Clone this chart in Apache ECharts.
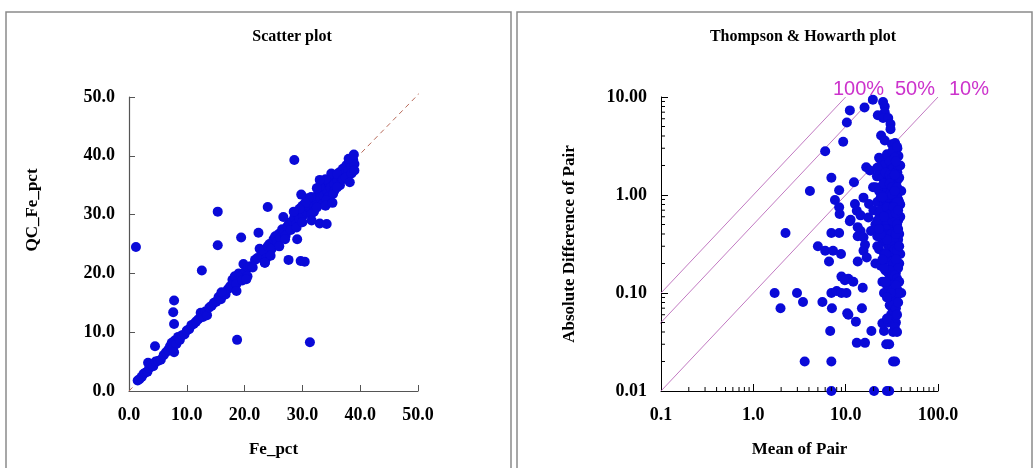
<!DOCTYPE html>
<html>
<head>
<meta charset="utf-8">
<script src="https://cdn.jsdelivr.net/npm/echarts@6/dist/echarts.min.js"></script>
<style>
html,body{margin:0;padding:0;background:#fff;}
#chart{width:1035px;height:468px;}
</style>
</head>
<body>
<div id="chart"></div>
<script>
// ---------- DATA ----------
const scatterTitle = "Scatter plot";
const thTitle = "Thompson & Howarth plot";
const scatterXName = "Fe_pct";
const scatterYName = "QC_Fe_pct";
const thXName = "Mean of Pair";
const thYName = "Absolute Difference of Pair";
const percentLabels = ["100%", "50%", "10%"];

// [Fe_pct, QC_Fe_pct]
const scatterPairs = [
  [1.5,1.8],[1.8,2.0],[2.2,2.4],[2.5,2.9],[2.8,3.1],[3.2,3.3],[3.5,3.9],[3.3,4.8],[3.9,4.6],[4.2,4.2],
  [4.6,5.0],[5.0,5.1],[5.5,5.3],[6.0,6.1],[6.4,6.6],[6.8,7.0],[7.1,7.6],[7.4,8.2],[7.6,7.2],[7.9,8.6],
  [8.2,8.0],[8.5,9.2],[8.8,8.7],[9.2,9.5],[9.6,9.6],[10.0,10.3],[10.4,10.5],[10.8,11.2],[11.2,11.4],[11.6,11.8],
  [12.0,12.2],[12.4,13.3],[12.8,12.6],[13.2,13.5],[13.5,12.9],[13.9,14.2],[14.3,14.5],[14.7,15.0],[15.1,15.2],[15.5,16.0],
  [15.9,15.6],[16.3,16.5],[16.7,16.4],[17.1,17.3],[17.5,17.8],[17.9,18.9],[18.3,19.5],[18.6,18.2],[19.0,20.0],[19.4,19.6],
  [19.8,21.6],[20.2,20.5],[20.6,21.0],[21.0,21.2],[21.4,21.0],[21.8,22.3],[22.2,22.6],[22.6,24.2],[22.9,23.0],[23.3,23.8],
  [23.7,22.5],[24.0,24.6],[24.3,25.0],[24.7,24.2],[25.0,25.8],[25.3,26.3],[25.6,25.4],[25.9,26.7],[26.2,26.0],[26.5,27.5],
  [26.8,27.0],[27.1,26.4],[27.4,28.0],[27.7,28.6],[28.0,27.4],[28.3,28.9],[28.6,29.5],[28.9,28.3],[29.2,30.0],[29.5,29.3],
  [29.8,30.6],[30.1,29.8],[30.4,31.2],[30.7,30.5],[31.0,31.9],[31.3,31.0],[31.6,32.3],[31.9,31.6],[32.2,33.0],[32.5,32.2],
  [32.8,33.6],[33.1,32.8],[33.4,34.2],[33.7,33.2],[34.0,35.0],[34.3,34.0],[34.6,35.4],[34.9,34.5],[35.2,36.0],[35.5,35.2],
  [35.8,36.5],[36.1,35.8],[36.4,37.2],[36.7,36.3],[37.0,37.8],[37.3,37.0],[37.6,38.4],[37.9,37.5],[38.2,38.9],[38.5,38.2],
  [38.8,39.3],[39.0,38.6],[30.0,31.5],[31.5,33.0],[32.0,30.5],[33.0,34.8],[33.5,31.8],[34.5,33.0],[35.0,37.0],[35.5,34.0],
  [36.0,36.9],[36.5,35.0],[37.0,36.0],[34.0,36.0],[33.0,35.9],[32.5,34.5],[31.0,32.8],[30.5,32.0],[29.5,31.0],[28.5,30.5],
  [29.0,27.8],[30.0,28.7],[31.5,30.0],[32.5,31.2],[34.2,32.5],[35.3,33.5],[36.0,34.6],[37.5,36.3],[38.5,37.0],[39.0,37.5],
  [38.0,39.5],[34.0,31.5],[35.2,32.0],[27.0,25.8],[26.0,24.6],[24.5,23.0],[23.5,21.8],[20.5,19.5],[19.6,18.8],[16.0,16.8],
  [1.2,24.5],[15.35,30.5],[15.35,24.8],[24.0,31.3],[28.6,39.3],[19.4,26.1],[22.4,26.9],[12.6,20.5],[7.8,15.4],[7.65,13.4],
  [7.8,11.4],[18.7,8.7],[31.3,8.3],[4.5,7.6],[27.6,22.3],[29.7,22.1],[30.4,22.0],[33.0,28.5],[34.2,28.4],[31.6,29.0],
  [29.1,25.8],[26.7,29.6],[29.8,33.4],[38.2,35.5],[38.9,40.2],[18.6,17.0],[20.3,19.0],[7.8,6.6],[23.5,21.8]
];
// dashed reference line end points [x, y]
const refLine = [[0,0],[50.6,51]];

// [Mean of Pair, Absolute Difference of Pair]
const thPoints = [
  [19.7,9.4],[16.0,7.8],[11.1,7.3],[10.3,5.5],[9.4,3.5],[6.0,2.8],[4.1,1.1],[2.23,0.41],[7.0,1.5],[8.5,1.12],
  [7.65,0.89],[8.5,0.75],[8.6,0.64],[7.0,0.41],[8.5,0.41],[5.0,0.30],[6.0,0.27],[6.6,0.21],[7.3,0.27],[8.9,0.25],
  [1.7,0.10],[1.97,0.07],[2.97,0.10],[3.45,0.081],[5.6,0.081],[7.0,0.10],[8.0,0.105],[9.0,0.10],[10.2,0.10],[7.1,0.07],
  [9.0,0.147],[10.7,0.14],[9.8,0.135],[12.1,0.13],[10.4,0.062],[10.7,0.06],[12.9,0.051],[15.0,0.07],[15.3,0.113],[6.8,0.041],
  [13.2,0.031],[16.2,0.031],[19.0,0.041],[3.6,0.020],[7.0,0.020],[7.0,0.01],[20.3,0.01],[28.0,0.01],[29.6,0.01],[27.5,0.03],
  [29.6,0.03],[32.6,0.02],[34.3,0.02],[32.6,0.04],[26.0,0.041],[25.0,0.049],[32.0,0.06],[32.6,0.051],[12.3,1.35],[12.6,0.81],
  [13.2,0.69],[14.5,0.62],[11.3,0.56],[11.1,0.54],[13.5,0.47],[14.5,0.43],[13.5,0.38],[13.5,0.21],[15.6,0.27],[16.9,0.23],
  [15.6,0.37],[16.2,0.31],[15.6,0.94],[17.9,0.81],[16.7,1.92],[17.6,0.59],[18.8,0.43],
  [25.4,8.9],[26.5,8.0],[26.5,7.0],[22.3,6.5],[25.4,6.1],[28.9,6.1],[30.6,5.3],[30.6,4.7],[24.2,4.05],[26.5,3.6],
  [31.7,3.3],[34.3,3.4],[36.3,3.0],[33.0,2.7],[37.3,2.5],[23.0,2.4],[25.7,2.15],[23.5,1.9],[30.6,2.07],[34.3,1.92],
  [36.3,1.7],[18.3,1.78],[21.8,1.55],[19.8,1.2],[28.0,1.2],[33.0,1.1],[38.2,1.1],
  [24,2.3],[26,2.0],[28,2.6],[30,2.2],[32,2.8],[34,2.4],[36,3.1],[31,1.8],[33,1.9],[35,1.7],
  [37,2.0],[22,1.9],[23,1.6],[25,1.5],[27,1.7],[29,1.4],[30,1.6],[32,1.5],[34,1.3],[36,1.4],
  [38,1.1],[21,1.2],[23,1.1],[25,1.25],[27,1.0],[28,1.2],[31,1.1],[33,0.95],[35,1.05],[37,0.9],
  [22,0.85],[24,0.95],[26,0.8],[28,0.85],[30,0.9],[32,0.75],[34,0.8],[36,0.7],[38,0.6],[20,0.7],
  [23,0.65],[25,0.7],[27,0.6],[29,0.65],[31,0.55],[33,0.6],[35,0.5],[37,0.55],[21,0.5],[24,0.5],
  [26,0.45],[28,0.5],[30,0.42],[32,0.45],[34,0.4],[36,0.38],[22,0.38],[25,0.35],[27,0.33],[29,0.3],
  [31,0.32],[33,0.28],[35,0.3],[37,0.25],[23,0.28],[26,0.25],[28,0.22],[30,0.24],[32,0.2],[34,0.21],
  [36,0.2],[38,0.2],[21,0.2],[24,0.19],[27,0.17],[29,0.16],[31,0.15],[33,0.14],[35,0.16],[37,0.13],
  [25,0.13],[28,0.12],[30,0.11],[32,0.1],[34,0.1],[36,0.11],[38,0.1],[26,0.1],[29,0.09],[31,0.085],
  [33,0.09],[35,0.09],[30,0.075],[32,0.07],[34,0.065],[31,0.06],[33,0.055],[35,0.05],[29,0.05],[34,0.045],
  [36,0.04],[28,0.055],[39,0.6],[40,1.1],[39,0.25],[40,0.1],[39,2.0],[38,1.5],[39,0.8],[37,0.35],
  [35,0.75],[36,0.95],[33,0.42],[31,0.75],[29,0.95],[27,0.45],[26,1.3],[24,0.7],[22,0.55],[35,2.2],
  [30,1.3],[32,1.2],[34,1.6],[36,1.2],[38,0.85],[30,0.6],[32,0.55],[34,0.6],[36,0.5],[38,0.4],
  [29,0.4],[31,0.4],[33,0.35],[35,0.4],[37,0.45],[30,0.3],[32,0.3],[34,0.28],[36,0.27],[38,0.3],
  [29,0.22],[31,0.21],[33,0.2],[35,0.22],[37,0.18],[30,0.17],[32,0.15],[34,0.15],[36,0.14],[38,0.13],
  [29,0.12],[31,0.12],[33,0.11],[35,0.12],[37,0.1],[31,0.1],[33,0.075],[35,0.07],[37,0.08],[36,0.06],
  [28,0.75],[30,1.0],[32,1.0],[34,1.1],[36,0.85],[31,0.65],[33,0.75],[35,0.65],[37,0.7],[28,0.35],
  [27,0.25],[26,0.18],[25,0.22],[27,0.13],[28,0.09],[26,0.6],[24,0.4],[23,0.45],[22,0.3],[25,0.95]
];
// Thompson & Howarth precision lines: [mean, diff] end points
const line100 = [[0.1,0.1],[10,10]];
const line50 = [[0.09,0.045],[20,10]];
const line10 = [[0.1,0.01],[100,10]];
// log-axis minor tick values
const minorTicksX = [0.2,0.3,0.4,0.5,0.6,0.7,0.8,0.9,2,3,4,5,6,7,8,9,20,30,40,50,60,70,80,90];
const minorTicksY = [0.02,0.03,0.04,0.05,0.06,0.07,0.08,0.09,0.2,0.3,0.4,0.5,0.6,0.7,0.8,0.9,2,3,4,5,6,7,8,9];

// ---------- CHART ----------
const chart = echarts.init(document.getElementById('chart'), null, {renderer:'canvas'});
const SERIF = '"Liberation Serif","Times New Roman",serif';
const blue = '#0a0ad8';
const labelStyle = {fontFamily: SERIF, fontWeight: 'bold', fontSize: 18, color: '#000'};
const nameStyle = {fontFamily: SERIF, fontWeight: 'bold', fontSize: 17, color: '#000'};
const fmt = (v, d) => Number(Number(v).toPrecision(6)).toFixed(d);

function minorTickSeries(values, axis) {
  return {
    type: 'custom', xAxisIndex: 1, yAxisIndex: 1, silent: true, z: 5, clip: false,
    data: values.map(v => axis === 'x' ? [v, 0.01] : [0.1, v]),
    renderItem: (p, api) => {
      const c = api.coord([api.value(0), api.value(1)]);
      return axis === 'x'
        ? {type:'line', shape:{x1:c[0], y1:c[1], x2:c[0], y2:c[1]-4}, style:{stroke:'#000', lineWidth:1}}
        : {type:'line', shape:{x1:c[0], y1:c[1], x2:c[0]+4, y2:c[1]}, style:{stroke:'#000', lineWidth:1}};
    }
  };
}

const thLineStyle = {color:'#c27ac2', width:1};

chart.setOption({
  backgroundColor: '#fff',
  animation: false,
  title: [
    {text: scatterTitle, left: 287, top: 24, textAlign: 'center',
     textStyle: {fontFamily: SERIF, fontWeight: 'bold', fontSize: 16, color: '#000'}},
    {text: thTitle, left: 798, top: 24, textAlign: 'center',
     textStyle: {fontFamily: SERIF, fontWeight: 'bold', fontSize: 16, color: '#000'}}
  ],
  grid: [
    {left: 129, top: 97, width: 289, height: 294},
    {left: 661, top: 97, width: 277, height: 294}
  ],
  xAxis: [
    {type:'value', gridIndex:0, min:0, max:50, interval:10,
     name: scatterXName, nameLocation:'middle', nameGap:50, nameTextStyle: nameStyle,
     axisLine:{lineStyle:{color:'#555', width:1.2}},
     axisTick:{inside:true, length:6, lineStyle:{color:'#555'}},
     axisLabel:{...labelStyle, margin:15, formatter: v => fmt(v,1)},
     splitLine:{show:false}},
    {type:'log', gridIndex:1, min:0.1, max:100, logBase:10,
     name: thXName, nameLocation:'middle', nameGap:50, nameTextStyle: nameStyle,
     axisLine:{lineStyle:{color:'#000', width:1}},
     axisTick:{inside:true, length:7, lineStyle:{color:'#000'}},
     axisLabel:{...labelStyle, margin:15, formatter: v => fmt(v,1)},
     splitLine:{show:false}, minorTick:{show:false}}
  ],
  yAxis: [
    {type:'value', gridIndex:0, min:0, max:50, interval:10,
     axisLine:{lineStyle:{color:'#555', width:1.2}},
     axisTick:{inside:true, length:6, lineStyle:{color:'#555'}},
     axisLabel:{...labelStyle, margin:14, formatter: v => fmt(v,1)},
     splitLine:{show:false}},
    {type:'log', gridIndex:1, min:0.01, max:10, logBase:10,
     name: thYName, nameLocation:'middle', nameGap:83, nameTextStyle: nameStyle,
     axisLine:{lineStyle:{color:'#000', width:1}},
     axisTick:{inside:true, length:7, lineStyle:{color:'#000'}},
     axisLabel:{...labelStyle, margin:14, formatter: v => fmt(v,2)},
     splitLine:{show:false}, minorTick:{show:false}}
  ],
  graphic: [
    {type:'rect', shape:{x:6, y:12, width:505, height:470}, style:{fill:'none', stroke:'#8a8a8a', lineWidth:1.5}, silent:true},
    {type:'rect', shape:{x:517, y:12, width:515, height:470}, style:{fill:'none', stroke:'#8a8a8a', lineWidth:1.5}, silent:true},
    {type:'text', x:33, y:210, rotation:Math.PI/2, silent:true,
     style:{text: scatterYName, font:'bold 17px ' + SERIF, fill:'#000', textAlign:'center', textVerticalAlign:'middle'}},
    {type:'text', x:833, y:89, silent:true,
     style:{text: percentLabels[0], font:'20px "Liberation Sans",Arial,sans-serif', fill:'#cc33cc', textAlign:'left', textVerticalAlign:'middle'}},
    {type:'text', x:895, y:89, silent:true,
     style:{text: percentLabels[1], font:'20px "Liberation Sans",Arial,sans-serif', fill:'#cc33cc', textAlign:'left', textVerticalAlign:'middle'}},
    {type:'text', x:949, y:89, silent:true,
     style:{text: percentLabels[2], font:'20px "Liberation Sans",Arial,sans-serif', fill:'#cc33cc', textAlign:'left', textVerticalAlign:'middle'}}
  ],
  series: [
    {type:'line', xAxisIndex:0, yAxisIndex:0, data: refLine, symbol:'none', clip:false, silent:true, z:1,
     lineStyle:{color:'#b86a5a', width:1, type:[5,4]}},
    {type:'scatter', xAxisIndex:0, yAxisIndex:0, data: scatterPairs, symbol:'circle', symbolSize:10,
     itemStyle:{color: blue, opacity:1}, z:3, clip:false},
    {type:'line', xAxisIndex:1, yAxisIndex:1, data: line100, symbol:'none', clip:false, silent:true, z:1, lineStyle: thLineStyle},
    {type:'line', xAxisIndex:1, yAxisIndex:1, data: line50, symbol:'none', clip:false, silent:true, z:1, lineStyle: thLineStyle},
    {type:'line', xAxisIndex:1, yAxisIndex:1, data: line10, symbol:'none', clip:false, silent:true, z:1, lineStyle: thLineStyle},
    {type:'scatter', xAxisIndex:1, yAxisIndex:1, data: thPoints, symbol:'circle', symbolSize:10,
     itemStyle:{color: blue, opacity:1}, z:3, clip:false},
    minorTickSeries(minorTicksX, 'x'),
    minorTickSeries(minorTicksY, 'y')
  ]
});
</script>
</body>
</html>
